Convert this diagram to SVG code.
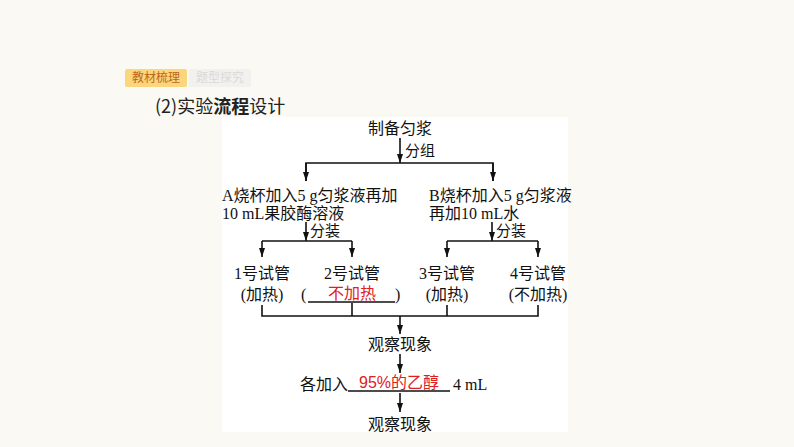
<svg xmlns="http://www.w3.org/2000/svg" width="794" height="447" viewBox="0 0 794 447">
<style>
.t{font-family:"Liberation Serif","Noto Sans CJK SC",serif;font-size:16px;fill:#111}
.s{font-size:15px}
.m{text-anchor:middle}
.r{font-family:"Liberation Sans","Noto Sans CJK SC",sans-serif;font-size:16px;fill:#e0201e;text-anchor:middle}
.ln{stroke:#111;stroke-width:1.6;fill:none}
.ar{stroke:#111;stroke-width:1.6;fill:none;marker-end:url(#ah)}
</style>
<defs>
<marker id="ah" markerUnits="userSpaceOnUse" markerWidth="10" markerHeight="7" refX="9" refY="3" orient="auto">
<path d="M0,0 L9,3 L0,6 z" fill="#111"/>
</marker>
</defs>
<rect width="794" height="447" fill="#fbf9f3"/>
<rect x="222" y="117" width="346" height="315" fill="#ffffff"/>
<g id="tabs">
<rect x="125" y="69" width="62" height="18" rx="2" fill="#fbd67c"/>
<text x="156" y="82" font-family="'Noto Sans CJK SC',sans-serif" font-size="12" fill="#c0661a" text-anchor="middle">教材梳理</text>
<rect x="189" y="69" width="62" height="18" rx="2" fill="#f2f1ee"/>
<text x="220" y="82" font-family="'Noto Sans CJK SC',sans-serif" font-size="12" fill="#d9d9d9" text-anchor="middle">题型探究</text>
</g>
<text id="title" x="155" y="113" font-family="'Noto Sans CJK SC',sans-serif" font-size="18" fill="#222">(2)实验<tspan font-weight="bold">流程</tspan>设计</text>
<g id="connectors">
<line class="ar" x1="400" y1="138" x2="400" y2="163"/>
<polyline class="ln" points="306,181 306,163 493,163 493,181"/>
<line class="ar" x1="306" y1="163" x2="306" y2="181"/>
<line class="ar" x1="493" y1="163" x2="493" y2="181"/>
<line class="ar" x1="306" y1="222" x2="306" y2="241"/>
<line class="ar" x1="492" y1="222" x2="492" y2="241"/>
<line class="ln" x1="262" y1="241" x2="352" y2="241"/>
<line class="ln" x1="447" y1="241" x2="538" y2="241"/>
<line class="ar" x1="262" y1="241" x2="262" y2="257"/>
<line class="ar" x1="352" y1="241" x2="352" y2="257"/>
<line class="ar" x1="447" y1="241" x2="447" y2="257"/>
<line class="ar" x1="538" y1="241" x2="538" y2="257"/>
<polyline class="ln" points="262,305 262,316 538,316 538,305"/>
<line class="ln" x1="352" y1="303" x2="352" y2="316"/>
<line class="ln" x1="447" y1="305" x2="447" y2="316"/>
<line class="ar" x1="400" y1="316" x2="400" y2="334"/>
<line class="ar" x1="400" y1="354" x2="400" y2="373"/>
<line class="ar" x1="400" y1="393" x2="400" y2="412"/>
</g>
<g id="n-start"><text class="t m" x="400" y="134">制备匀浆</text></g>
<g id="l-group"><text class="t s" x="405" y="156">分组</text></g>
<g id="n-A"><text class="t" x="222" y="201">A烧杯加入5 g匀浆液再加</text><text class="t" x="222" y="219">10 mL果胶酶溶液</text></g>
<g id="n-B"><text class="t" x="429" y="201">B烧杯加入5 g匀浆液</text><text class="t" x="429" y="219">再加10 mL水</text></g>
<g id="l-split1"><text class="t s" x="310" y="236">分装</text></g>
<g id="l-split2"><text class="t s" x="496" y="236">分装</text></g>
<g id="n-t1"><text class="t m" x="262" y="279">1号试管</text><text class="t m" x="262" y="300">(加热)</text></g>
<g id="n-t2"><text class="t m" x="352" y="279">2号试管</text><text class="t" x="301" y="300">(</text><text class="t" x="395" y="300">)</text><line x1="308" y1="302" x2="395" y2="302" stroke="#111" stroke-width="1.4"/><text class="r" x="352" y="299">不加热</text></g>
<g id="n-t3"><text class="t m" x="447" y="279">3号试管</text><text class="t m" x="447" y="300">(加热)</text></g>
<g id="n-t4"><text class="t m" x="538" y="279">4号试管</text><text class="t m" x="538" y="300">(不加热)</text></g>
<g id="n-obs1"><text class="t m" x="400" y="350">观察现象</text></g>
<g id="n-add"><text class="t" x="300" y="390">各加入</text><line x1="348" y1="391" x2="450" y2="391" stroke="#111" stroke-width="1.4"/><text class="r" x="399" y="388">95%的乙醇</text><text class="t" x="453" y="390">4 mL</text></g>
<g id="n-obs2"><text class="t m" x="400" y="430">观察现象</text></g>
</svg>
